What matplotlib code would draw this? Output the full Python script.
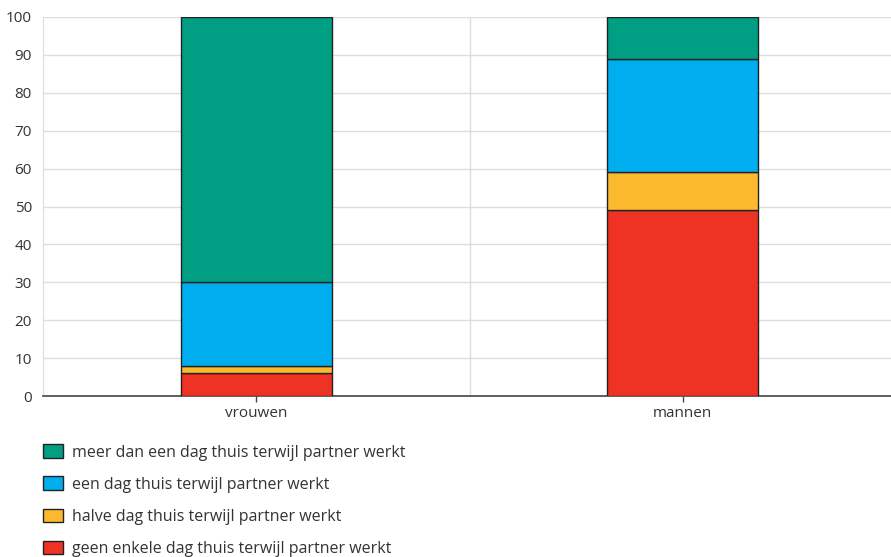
import numpy as np
import matplotlib.pyplot as plt

categories = ["vrouwen", "mannen"]
labels = [
    "geen enkele dag thuis terwijl partner werkt",
    "halve dag thuis terwijl partner werkt",
    "een dag thuis terwijl partner werkt",
    "meer dan een dag thuis terwijl partner werkt",
]
geen_enkele = [6, 49]
halve_dag = [2, 10]
een_dag = [22, 30]
meer_dan_een = [70, 11]
colors = ["#EE3224", "#FBBA2E", "#00ADEF", "#009F84"]

plt.rcParams["font.family"] = ["Open Sans", "DejaVu Sans"]
text_color = "#333333"

fig = plt.figure(figsize=(8.91, 5.57), dpi=100)
ax = fig.add_axes([43 / 891, 1 - 396 / 557, 853 / 891, 379 / 557])

x = np.arange(len(categories))
bottom = np.zeros(len(categories))
handles = []
for vals, lab, col in zip([geen_enkele, halve_dag, een_dag, meer_dan_een], labels, colors):
    b = ax.bar(x, vals, width=0.354, bottom=bottom, color=col, edgecolor="#222222",
               linewidth=1.0, label=lab, zorder=3)
    handles.append(b)
    bottom += np.array(vals)

ax.set_xlim(-0.5, 1.5)
ax.set_ylim(0, 100)
ax.set_yticks(np.arange(0, 101, 10))
ax.set_xticks(x)
ax.set_xticklabels(categories)
ax.set_xticks([0.5], minor=True)

ax.grid(axis="y", color="#DDDDDD", linewidth=1.0, zorder=0)
ax.grid(axis="x", which="minor", color="#DDDDDD", linewidth=1.0, zorder=0)
ax.tick_params(axis="y", length=0, pad=8, labelsize=11, colors=text_color)
ax.tick_params(axis="x", which="major", length=4, width=1, color="#444444", pad=3,
               labelsize=11, labelcolor=text_color)
ax.tick_params(axis="x", which="minor", length=0)
for s in ["top", "right"]:
    ax.spines[s].set_visible(False)
ax.spines["left"].set_color("#DDDDDD")
ax.spines["bottom"].set_color("#444444")
ax.spines["bottom"].set_linewidth(1.2)

leg = fig.legend(handles[::-1], labels[::-1], loc="upper left",
                 bbox_to_anchor=(0.0325, 1 - 430 / 557), frameon=False,
                 fontsize=11.5, labelcolor=text_color, handlelength=1.25,
                 handleheight=0.9, handletextpad=0.55, labelspacing=1.0)

fig.savefig("out.png", dpi=100)
